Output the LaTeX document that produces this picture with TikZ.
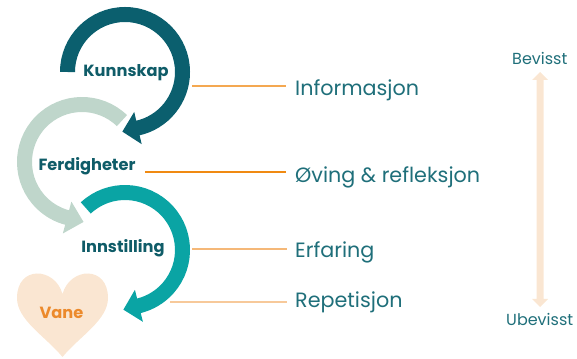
\documentclass[tikz,border=0pt]{standalone}
\usepackage{fontspec}
\setmainfont{Poppins}
\usetikzlibrary{calc}
\definecolor{darkteal}{HTML}{0B5F6E}
\definecolor{sage}{HTML}{BFD6CB}
\definecolor{midteal}{HTML}{0AA4A4}
\definecolor{peach}{HTML}{FAE6D2}
\definecolor{labeltext}{HTML}{1F6F7A}
\definecolor{boldtext}{HTML}{0F5C68}
\definecolor{vaneorange}{HTML}{EC8A2C}
\definecolor{lineA}{HTML}{F4A851}
\definecolor{lineB}{HTML}{F08A12}
\definecolor{lineC}{HTML}{F5B878}
\definecolor{lineD}{HTML}{F7C99A}
\begin{document}
\begin{tikzpicture}[x=1pt,y=1pt,
  ring/.style={line width=15pt},
  boldlabel/.style={font=\bfseries\fontsize{16.2}{19}\selectfont, text=boldtext, inner sep=0pt, anchor=base},
  sidelabel/.style={font=\fontsize{20.7}{24}\selectfont, text=labeltext, inner sep=0pt, anchor=base west},
  scalelabel/.style={font=\fontsize{16}{19}\selectfont, text=labeltext, inner sep=0pt, anchor=base west},
  leader/.style={line width=1.2pt}]
\useasboundingbox (0,0) rectangle (577,358);
% centres
\coordinate (C1) at (125,286);
\coordinate (C2) at (82,196);
\coordinate (C3) at (125,108);
% arc 2 (sage): counter-clockwise
\draw[ring, sage] ($(C2)+(46:57.5)$) arc[start angle=46, end angle=256, radius=57.5];
\fill[sage] ($(C2)+(255:74)$) -- ($(C2)+(255:41)$) -- ($(C2)+(255:57.5)+(345:17)$) -- cycle;
% arc 1 (dark teal): clockwise
\draw[ring, darkteal] ($(C1)+(180:57.5)$) arc[start angle=180, end angle=-78, radius=57.5];
\fill[darkteal] ($(C1)+(-77:74)$) -- ($(C1)+(-77:41)$) -- ($(C1)+(-77:57.5)+(-167:16)$) -- cycle;
% arc 3 (teal): clockwise
\draw[ring, midteal] ($(C3)+(133:57.5)$) arc[start angle=133, end angle=-78, radius=57.5];
\fill[midteal] ($(C3)+(-76:74)$) -- ($(C3)+(-76:41)$) -- ($(C3)+(-76:57.5)+(-166:16)$) -- cycle;
% heart
\fill[peach] (62.5,64) .. controls (55,91) and (17,93) .. (17,60)
  .. controls (17,38) and (45,22) .. (62.5,1)
  .. controls (80,22) and (108,38) .. (108,60)
  .. controls (108,93) and (70,91) .. (62.5,64) -- cycle;
% bold labels
\node[boldlabel] (kunnskap) at (126,281) {Kunnskap};
\node[boldlabel] (ferdig) at (87,187) {Ferdigheter};
\node[boldlabel] (innst) at (123,105) {Innstilling};
\node[boldlabel, text=vaneorange] (vane) at (61.5,39) {Vane};
% side labels
\node[sidelabel] (info) at (295,262) {Informasjon};
\node[sidelabel] (oving) at (295,175) {Øving \& refleksjon};
\node[sidelabel] (erf) at (295,100) {Erfaring};
\node[sidelabel] (rep) at (295,50) {Repetisjon};
% leader lines
\coordinate (l1) at (192,272);
\coordinate (l2) at (145,186);
\coordinate (l3) at (192,109);
\coordinate (l4) at (170,56);
\draw[leader, lineA] (l1) -- ($(l1 -| info.west)+(-9,0)$);
\draw[leader, lineB] (l2) -- ($(l2 -| oving.west)+(-9,0)$);
\draw[leader, lineC] (l3) -- ($(l3 -| erf.west)+(-8,0)$);
\draw[leader, lineD] (l4) -- ($(l4 -| rep.west)+(-8,0)$);
% scale
\node[scalelabel] (bev) at (512,293) {Bevisst};
\node[scalelabel] (ubev) at (506,32) {Ubevisst};
\coordinate (top) at (540,286);
\coordinate (bot) at (540,51);
\fill[peach] (top) -- ++(8,-8) -- ++(-4.5,0) -- ($(bot)+(3.5,8)$) -- ++(4.5,0) -- (bot) -- ++(-8,8) -- ++(4.5,0) -- ($(top)+(-3.5,-8)$) -- ++(-4.5,0) -- cycle;
\end{tikzpicture}
\end{document}
